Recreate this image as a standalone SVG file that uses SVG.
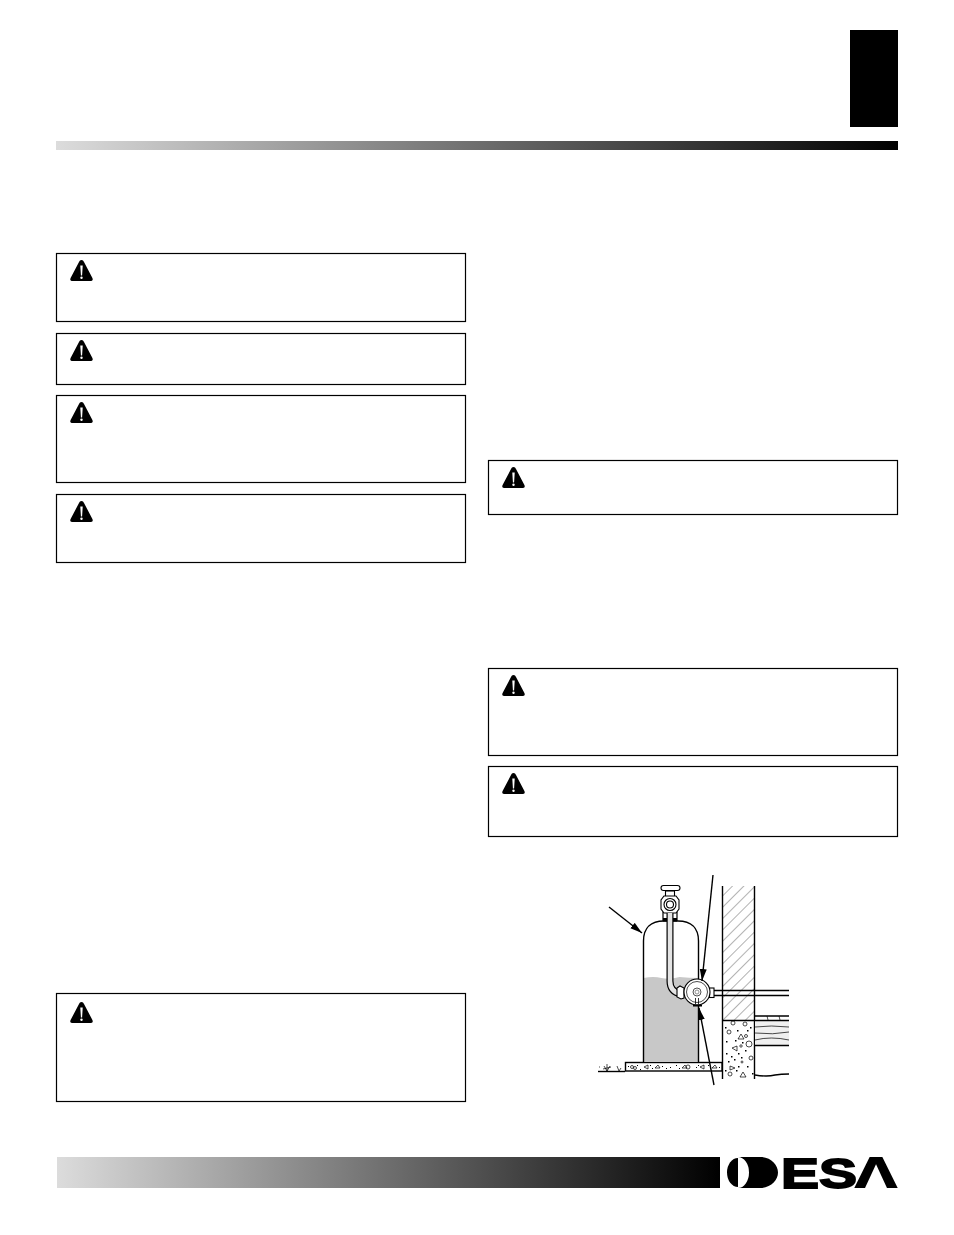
<svg xmlns="http://www.w3.org/2000/svg" width="954" height="1235" viewBox="0 0 954 1235">
<style>
.box{fill:#fff;stroke:#000;stroke-width:1.2}
.ln{fill:none;stroke:#000;stroke-width:1.4}
.th{fill:none;stroke:#000;stroke-width:.7}
.w{fill:#fff;stroke:#000;stroke-width:1.1}
.logo{font-family:"Liberation Sans",Arial,sans-serif;font-weight:700;fill:#000}
</style>
<defs>
<linearGradient id="g1"><stop offset="0" stop-color="#dcdcdc"/><stop offset="1" stop-color="#000"/></linearGradient>
<pattern id="hatch" width="8" height="8" patternUnits="userSpaceOnUse" patternTransform="rotate(45)"><rect width="8" height="8" fill="#fff"/><line x1="0" y1="0" x2="0" y2="8" stroke="#555" stroke-width=".9"/></pattern>
<marker id="ah" markerUnits="userSpaceOnUse" markerWidth="12" markerHeight="8" refX="12" refY="3.500" orient="auto"><path d="M0 0L12 3.500L0 7z" fill="#000"/></marker>
<g id="warn"><path d="M11.500 0C12.800 0 13.400 .8 14 2L22.400 18C23.200 19.600 22.600 21 21 21H2C.4 21-.2 19.600 .6 18L9 2C9.600 .8 10.200 0 11.500 0Z" fill="#000"/><path d="M10.300 5.500h2.400l-.6 10h-1.200z" fill="#fff"/><circle cx="11.500" cy="17.800" r="1.200" fill="#fff"/></g>
</defs>
<rect width="954" height="1235" fill="#fff"/>
<rect x="850" y="30" width="48" height="97" fill="#000"/>
<rect x="56" y="141" width="842" height="9" fill="url(#g1)"/>
<rect x="57" y="1157" width="663" height="31" fill="url(#g1)"/>

<g id="warning-1"><rect class="box" x="56.500" y="253.500" width="409" height="68"/><use href="#warn" x="70" y="260"/></g>
<g id="warning-2"><rect class="box" x="56.500" y="333.500" width="409" height="51"/><use href="#warn" x="70" y="340"/></g>
<g id="warning-3"><rect class="box" x="56.500" y="395.500" width="409" height="87"/><use href="#warn" x="70" y="402"/></g>
<g id="warning-4"><rect class="box" x="56.500" y="494.500" width="409" height="68"/><use href="#warn" x="70" y="501"/></g>
<g id="warning-5"><rect class="box" x="56.500" y="993.500" width="409" height="108"/><use href="#warn" x="70" y="1002"/></g>
<g id="warning-6"><rect class="box" x="488.500" y="460.500" width="409" height="54"/><use href="#warn" x="502" y="467"/></g>
<g id="warning-7"><rect class="box" x="488.500" y="668.500" width="409" height="87"/><use href="#warn" x="502" y="675"/></g>
<g id="warning-8"><rect class="box" x="488.500" y="766.500" width="409" height="70"/><use href="#warn" x="502" y="773"/></g>

<g id="tank-illustration">
<rect x="722" y="886" width="33" height="134" fill="url(#hatch)"/>
<path class="ln" d="M722.500 886V1079M754.500 886V1079M722 1020.500H755"/>
<path d="M755 1021H789V1045H755Z" fill="#f0f0f0"/>
<path class="ln" d="M755 1016H789M755 1020.500H789M755 1045.500H789"/>
<path class="th" d="M755 1027q16-2 34 0M755 1033q18 2 34-1M755 1040q16-4 34 0M767 1016l1 4M779 1016l1 4"/>
<path class="ln" d="M755 1075q12 2 20 0q6-1 14-1"/>
<g class="th">
<circle cx="733" cy="1023" r="2"/><circle cx="745" cy="1024" r="2"/><circle cx="729" cy="1032" r="2"/><circle cx="746" cy="1036" r="1.500"/><path d="M741 1034l3 5h-6z"/><circle cx="749" cy="1044" r="3"/><path d="M732 1048l5-2v5z"/><circle cx="741" cy="1046" r="1.200"/><circle cx="751" cy="1058" r="2"/><path d="M730 1066l5 2-5 2z"/><circle cx="730" cy="1074" r="2"/><path d="M743 1072l3 5h-6z"/><circle cx="742" cy="1062" r="1"/>
</g>
<path d="M726 1041h1.500v1.500h-1.500zM735 1040h1.500v1.500h-1.500zM747 1030h1.500v1.500h-1.500zM726 1053h1.500v1.500h-1.500zM738 1053h1.500v1.500h-1.500zM745 1050h1.500v1.500h-1.500zM734 1059h1.500v1.500h-1.500zM728 1061h1.500v1.500h-1.500zM747 1066h1.500v1.500h-1.500zM738 1066h1.500v1.500h-1.500zM752 1073h1.500v1.500h-1.500zM725 1027h1.500v1.500h-1.500zM737 1030h1.500v1.500h-1.500zM750 1027h1.500v1.500h-1.500zM742 1042h1.500v1.500h-1.500zM731 1056h1.500v1.500h-1.500zM741 1057h1.500v1.500h-1.500zM736 1070h1.500v1.500h-1.500zM725 1070h1.500v1.500h-1.500z" fill="#000"/>
<rect x="625.500" y="1062.500" width="96.500" height="8.500" fill="#fff" stroke="#000" stroke-width="1.400"/>
<g class="th">
<circle cx="632" cy="1067" r="1.500"/><circle cx="635" cy="1068" r="1.500"/><path d="M644 1067l4-2v4z"/><path d="M655 1068l3-3 2 3z"/><path d="M682 1068l3-3 2 3z"/><circle cx="688" cy="1067" r="2"/><path d="M700 1067l4-2v4z"/><path d="M712 1068l3-3 2 3z"/>
</g>
<path d="M628 1066h1v1h-1zM640 1069h1v1h-1zM650 1065h1v1h-1zM652 1068h1v1h-1zM662 1066h1v1h-1zM666 1068h1v1h-1zM670 1067h1v1h-1zM676 1065h1v1h-1zM679 1068h1v1h-1zM696 1067h1v1h-1zM698 1065h1v1h-1zM708 1065h1v1h-1zM710 1068h1v1h-1zM719 1067h1v1h-1zM637 1065h1v1h-1z" fill="#000"/>
<path class="ln" d="M598 1071.500H625"/>
<path class="th" d="M607 1071v-7M607 1071l-3-5M607 1071l3-5M603 1069l8-2M619 1071l-2-5M619 1071l2-3M599 1067h1"/>
<path d="M643.500 978q10-2 18 0t18-1q10 1 18.500 1V1062H643.500Z" fill="#c8c8c8"/>
<path class="ln" d="M643.500 1062V941C643.500 928 651 921 664 921H678C691 921 698.500 928 698.500 941V983M698.500 1003V1062"/>
<path d="M663 921V912H677V921" fill="#fff" stroke="#000" stroke-width="1.200"/>
<rect x="663" y="918" width="4" height="3.500" fill="#000"/><rect x="673" y="918" width="4" height="3.500" fill="#000"/>
<rect x="665.500" y="891" width="9" height="6" class="w"/>
<path class="w" d="M661 888q0-2.500 2.500-2.500H677.500q2.500 0 2.500 2.500t-2.500 2.500H663.500q-2.500 0-2.500-2.500Z"/>
<path class="w" d="M664 896H676L679 900V909L676 913H664L661 909V900Z"/>
<circle class="w" cx="670" cy="904.500" r="6"/><circle class="w" cx="670" cy="904.500" r="3.500"/>
<path d="M670 913V981Q670 992 681 994" fill="none" stroke="#000" stroke-width="7"/>
<path d="M670 913V981Q670 992 681 994" fill="none" stroke="#e4e4e4" stroke-width="4.600"/>
<path class="w" d="M677 988l3-2 4 2v10l-3 1-4-2z"/>
<rect x="709.500" y="988" width="4.500" height="9.500" class="w"/>
<path class="ln" d="M714 990.500H789M714 995.500H789"/>
<circle class="w" cx="697" cy="992" r="13"/><circle cx="697" cy="992" r="10.500" fill="#fff" stroke="#000" stroke-width=".7"/>
<circle cx="697" cy="992" r="4" fill="#fff" stroke="#555" stroke-width="1"/><circle cx="697" cy="992" r="2" fill="#fff" stroke="#777" stroke-width=".8"/>
<path d="M695.500 998v6M698.500 998v6" stroke="#000" stroke-width=".8" fill="none"/>
<rect x="693" y="1004.500" width="9" height="2" fill="#000"/>
</g>
<g id="connectors">
<line class="ln" x1="609" y1="907" x2="642" y2="933" marker-end="url(#ah)"/>
<line class="ln" x1="713" y1="875" x2="702" y2="981" marker-end="url(#ah)"/>
<line class="ln" x1="714" y1="1085" x2="699" y2="1008" marker-end="url(#ah)"/>
</g>
<g id="logo">
<path d="M738 1158A11 14.500 0 0 0 738 1187Z" fill="#000"/>
<path d="M738 1157H760C771 1157 778 1165 778 1172.500S771 1188 760 1188H738A11 15.500 0 0 0 738 1157Z" fill="#000"/>
<text class="logo" x="781" y="1187.500" font-size="43" textLength="76" lengthAdjust="spacingAndGlyphs" stroke="#000" stroke-width="1.800">ES</text>
<text class="logo" x="854" y="1188" font-size="43" textLength="44" lengthAdjust="spacingAndGlyphs" style="font-family:'DejaVu Sans',sans-serif">Λ</text>
</g>
</svg>
